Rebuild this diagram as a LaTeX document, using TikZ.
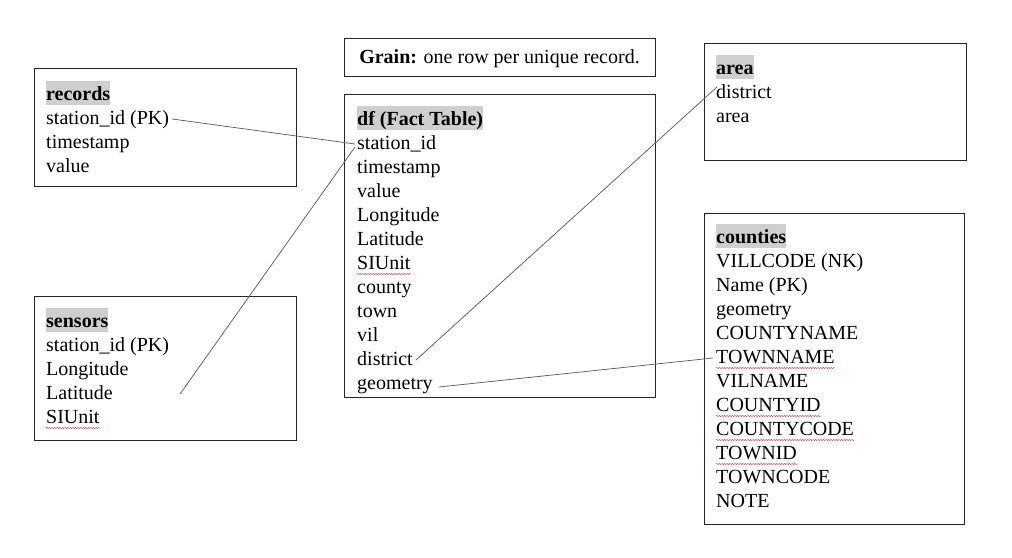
\documentclass[tikz,border=0pt]{standalone}
\usepackage{fontspec}
\setmainfont{Liberation Serif}
\usetikzlibrary{decorations.pathmorphing,calc}
\begin{document}
\begin{tikzpicture}[x=1pt,y=-1pt,
  tbox/.style={draw=black!85,line width=0.9pt,anchor=north west,inner sep=0pt},
  ttl/.style={anchor=base west,inner sep=0pt,text height=19pt,text depth=5pt,fill=gray!38,font=\fontsize{20}{24}\selectfont\bfseries},
  row/.style={anchor=base west,inner xsep=3pt,inner ysep=0pt,text height=14pt,text depth=4pt,font=\fontsize{20}{24}\selectfont},
  link/.style={draw=black!62,line width=0.75pt},
  squig/.style={draw=red!70,line width=0.45pt,decorate,decoration={snake,amplitude=0.7pt,segment length=2.6pt}}
]
\useasboundingbox (0,0) rectangle (1012,557);
% boxes
\node[tbox,minimum width=262pt,minimum height=117.5pt] (recbox) at (34,68) {};
\node[tbox,minimum width=262pt,minimum height=144.5pt] (senbox) at (34,295.5) {};
\node[tbox,minimum width=311pt,minimum height=38.5pt] (grainbox) at (344,37.5) {};
\node[tbox,minimum width=310.5pt,minimum height=303pt] (dfbox) at (344,94) {};
\node[tbox,minimum width=262.5pt,minimum height=117pt] (areabox) at (703.5,42.5) {};
\node[tbox,minimum width=260.5pt,minimum height=311pt] (coubox) at (703.5,212.5) {};
% grain text
\node[font=\fontsize{20}{24}\selectfont,anchor=base] (grain) at (499.5,63) {\textbf{Grain:} one row per unique record.};
% records
\node[ttl] (rec-t) at (46,100) {records};
\node[row] (rec-sid) at (43,124) {station\_id (PK)};
\node[row] (rec-ts) at (43,148) {timestamp};
\node[row] (rec-val) at (43,172) {value};
% sensors
\node[ttl] (sen-t) at (46,327) {sensors};
\node[row] (sen-sid) at (43,351) {station\_id (PK)};
\node[row] (sen-lon) at (43,375) {Longitude};
\node[row] (sen-lat) at (43,399) {Latitude};
\node[row] (sen-si) at (43,423) {SIUnit};
\coordinate (sen-end) at (180,394);
% df
\node[ttl] (df-t) at (357,125) {df (Fact Table)};
\node[row] (df-sid) at (354,149) {station\_id};
\node[row] (df-ts) at (354,173) {timestamp};
\node[row] (df-val) at (354,197) {value};
\node[row] (df-lon) at (354,221) {Longitude};
\node[row] (df-lat) at (354,245) {Latitude};
\node[row] (df-si) at (354,269) {SIUnit};
\node[row] (df-cty) at (354,293) {county};
\node[row] (df-town) at (354,317) {town};
\node[row] (df-vil) at (354,341) {vil};
\node[row] (df-dis) at (354,365) {district};
\node[row] (df-geo) at (354,389) {geometry};
% area
\node[ttl] (area-t) at (716,74) {area};
\node[row] (area-dis) at (713,98) {district};
\node[row] (area-area) at (713,122) {area};
% counties
\node[ttl] (cou-t) at (716,243) {counties};
\node[row] (cou-vc) at (713,267) {VILLCODE (NK)};
\node[row] (cou-name) at (713,291) {Name (PK)};
\node[row] (cou-geo) at (713,315) {geometry};
\node[row] (cou-cn) at (713,339) {COUNTYNAME};
\node[row] (cou-tn) at (713,363) {TOWNNAME};
\node[row] (cou-vn) at (713,387) {VILNAME};
\node[row] (cou-cid) at (713,411) {COUNTYID};
\node[row] (cou-cc) at (713,435) {COUNTYCODE};
\node[row] (cou-tid) at (713,459) {TOWNID};
\node[row] (cou-tc) at (713,483) {TOWNCODE};
\node[row] (cou-note) at (713,507) {NOTE};
% spell-check squiggles
\foreach \n in {sen-si,df-si,cou-tn,cou-cid,cou-cc,cou-tid}{
  \draw[squig] ([xshift=3pt,yshift=-5pt]\n.base west) -- ([xshift=-3pt,yshift=-5pt]\n.base east);
}
% connectors
\draw[link] (rec-sid.east) -- ($(df-sid.west)+(1,0)$);
\draw[link] (sen-end) -- ($(df-sid.west)+(1,3)$);
\draw[link] (df-dis.east) -- ($(area-dis.west)+(4,-6)$);
\draw[link] ($(df-geo.east)+(3,3)$) -- (cou-tn.west);
\end{tikzpicture}
\end{document}
